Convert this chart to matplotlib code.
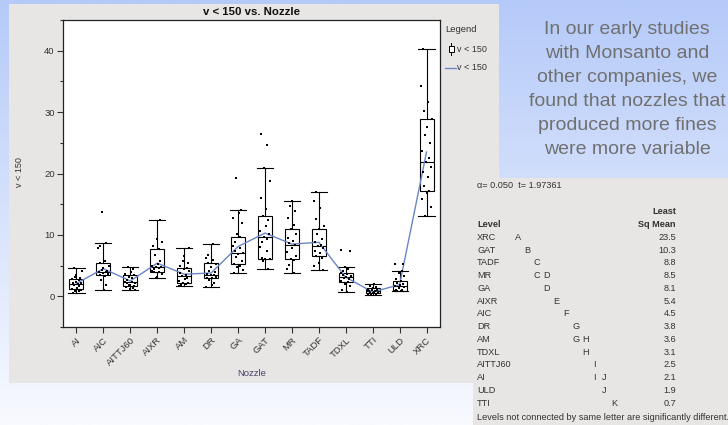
import numpy as np
import matplotlib.pyplot as plt
from matplotlib.patches import Rectangle
from matplotlib.lines import Line2D
from matplotlib.ticker import MultipleLocator

plt.rcParams['font.family'] = ['Liberation Sans', 'DejaVu Sans']

W, H = 728, 425

nozzles = ['AI', 'AIC', 'AITTJ60', 'AIXR', 'AM', 'DR', 'GA', 'GAT', 'MR',
           'TADF', 'TDXL', 'TTI', 'ULD', 'XRC']

# box summaries, one entry per nozzle
whisker_lo = [0.6, 1.1, 1.1, 2.9, 1.7, 1.5, 3.8, 4.4, 3.8, 4.3, 0.65, 0.2, 0.8, 13.0]
q1 = [1.2, 3.4, 1.7, 4.0, 2.1, 2.9, 5.2, 6.1, 6.1, 6.6, 2.3, 0.5, 0.9, 17.1]
median = [2.05, 4.0, 2.3, 4.7, 3.3, 3.5, 7.1, 9.6, 8.3, 8.2, 3.1, 0.85, 1.7, 21.9]
q3 = [2.8, 5.5, 3.5, 7.7, 4.6, 5.5, 9.6, 13.1, 10.9, 10.9, 3.85, 1.3, 2.45, 28.9]
whisker_hi = [4.6, 8.6, 4.7, 12.4, 7.8, 8.5, 14.0, 20.9, 15.5, 17.0, 4.7, 2.05, 4.2, 40.3]

# individual measurements per nozzle
pts_ai = [0.6, 0.8, 0.9, 1.1, 1.2, 1.3, 1.6, 1.8, 2.0, 2.1, 2.2, 2.4, 2.6, 2.8, 2.9, 3.1, 3.5, 4.1, 4.6]
pts_aic = [1.1, 1.9, 2.6, 3.3, 3.4, 3.6, 3.8, 3.9, 4.0, 4.1, 4.3, 4.6, 5.0, 5.5, 5.8, 7.8, 8.2, 8.6, 13.7]
pts_aittj60 = [1.1, 1.2, 1.3, 1.5, 1.7, 1.8, 1.9, 2.1, 2.2, 2.3, 2.4, 2.6, 2.9, 3.2, 3.5, 3.7, 4.0, 4.4, 4.7]
pts_aixr = [2.9, 3.2, 3.6, 3.9, 4.0, 4.2, 4.4, 4.6, 4.7, 4.8, 5.0, 5.3, 5.7, 6.8, 7.7, 8.2, 8.9, 9.4, 12.4]
pts_am = [1.7, 1.8, 2.0, 2.1, 2.2, 2.5, 2.8, 3.0, 3.3, 3.5, 3.8, 4.1, 4.4, 4.6, 4.9, 5.5, 5.8, 6.6, 7.8]
pts_dr = [1.5, 1.8, 2.2, 2.6, 2.9, 3.0, 3.2, 3.4, 3.5, 3.6, 3.9, 4.2, 4.8, 5.3, 5.5, 5.9, 6.2, 6.8, 8.5]
pts_ga = [3.8, 4.3, 4.7, 5.0, 5.2, 5.8, 6.4, 6.9, 7.1, 7.3, 7.8, 8.2, 8.9, 9.6, 10.2, 11.9, 12.8, 13.5, 14.0, 19.3]
pts_gat = [4.4, 5.8, 6.0, 6.1, 6.2, 7.3, 8.0, 8.8, 9.4, 9.6, 10.1, 10.6, 11.4, 12.4, 13.1, 14.2, 16.0, 18.8, 20.9, 24.7, 26.5]
pts_mr = [3.8, 4.4, 5.1, 5.9, 6.1, 6.5, 7.2, 7.8, 8.3, 8.6, 9.0, 9.5, 10.2, 10.9, 11.6, 12.8, 13.9, 14.7, 15.5]
pts_tadf = [4.3, 4.9, 5.5, 6.2, 6.6, 7.0, 7.4, 7.8, 8.2, 8.4, 8.8, 9.4, 10.1, 10.9, 11.5, 12.6, 14.3, 15.6, 17.0]
pts_tdxl = [0.65, 1.1, 1.6, 2.0, 2.3, 2.5, 2.8, 3.0, 3.1, 3.3, 3.5, 3.7, 3.85, 4.1, 4.4, 4.7, 7.3, 7.5]
pts_tti = [0.2, 0.3, 0.4, 0.5, 0.55, 0.6, 0.7, 0.8, 0.85, 0.9, 1.0, 1.1, 1.2, 1.3, 1.5, 1.7, 2.05]
pts_uld = [0.8, 0.85, 0.9, 1.0, 1.1, 1.3, 1.5, 1.7, 1.8, 2.0, 2.2, 2.45, 2.8, 3.3, 3.8, 4.2, 5.3, 5.3]
pts_xrc = [13.0, 14.6, 15.8, 16.9, 17.1, 18.0, 19.4, 20.2, 21.0, 21.9, 22.6, 23.6, 24.9, 26.3, 27.6, 28.9, 30.2, 31.7, 34.2, 40.3]

# connecting letters report
lsm_levels = ['XRC', 'GAT', 'TADF', 'MR', 'GA', 'AIXR', 'AIC', 'DR', 'AM',
              'TDXL', 'AITTJ60', 'AI', 'ULD', 'TTI']
lsm_letters = ['A', 'B', 'C', 'CD', 'D', 'E', 'F', 'G', 'GH', 'H', 'I', 'IJ', 'J', 'K']
lsm_means = [23.5, 10.3, 8.8, 8.5, 8.1, 5.4, 4.5, 3.8, 3.6, 3.1, 2.5, 2.1, 1.9, 0.7]

slide_lines = ['In our early studies', 'with Monsanto and',
               'other companies, we', 'found that nozzles that',
               'produced more fines', 'were more variable']


def fx(x):
    return x / W


def fy(y):
    return 1 - y / H


fig = plt.figure(figsize=(W / 100, H / 100), dpi=100)

# slide background: vertical blue-to-white gradient
bg = fig.add_axes([0, 0, 1, 1], zorder=-10)
top = np.array([181, 202, 249]) / 255
bot = np.array([248, 250, 255]) / 255
t = np.linspace(0, 1, 256)[:, None]
grad = (top * (1 - t) + bot * t)[:, None, :]
bg.imshow(grad, aspect='auto', extent=[0, 1, 0, 1])
bg.axis('off')

panel = '#e8e6e4'
fig.patches.append(Rectangle((fx(9), fy(383)), fx(499 - 9), (383 - 4) / H,
                             transform=fig.transFigure, facecolor=panel,
                             edgecolor='none', zorder=-5))
fig.patches.append(Rectangle((fx(473), 0), 1 - fx(473), (425 - 178) / H,
                             transform=fig.transFigure, facecolor=panel,
                             edgecolor='none', zorder=-5))

ax = fig.add_axes([fx(63), fy(327), fx(440 - 63), (327 - 20) / H])
ax.set_facecolor('white')

pos = np.arange(len(nozzles))
stats = []
for i, name in enumerate(nozzles):
    stats.append(dict(label=name, whislo=whisker_lo[i], q1=q1[i], med=median[i],
                      q3=q3[i], whishi=whisker_hi[i], fliers=[]))
line_kw = dict(color='black', linewidth=0.8)
ax.bxp(stats, positions=pos, widths=0.52, capwidths=0.6, showfliers=False,
       patch_artist=True,
       boxprops=dict(facecolor='white', edgecolor='black', linewidth=0.8),
       medianprops=line_kw, whiskerprops=line_kw, capprops=line_kw)

# fixed jitter pattern for the raw points
jit = [-0.12, 0.08, -0.04, 0.15, -0.18, 0.02, 0.11, -0.09, 0.05, -0.14, 0.17,
       -0.02, 0.09, -0.16, 0.13, -0.06, 0.0, 0.19, -0.11, 0.06, -0.19]
groups = [pts_ai, pts_aic, pts_aittj60, pts_aixr, pts_am, pts_dr, pts_ga,
          pts_gat, pts_mr, pts_tadf, pts_tdxl, pts_tti, pts_uld, pts_xrc]
for i, vals in enumerate(groups):
    xs = [i + jit[(k + 5 * i) % len(jit)] for k in range(len(vals))]
    ax.scatter(xs, vals, s=2.5, marker='s', color='black', linewidths=0, zorder=4)

mean_by_level = dict(zip(lsm_levels, lsm_means))
ax.plot(pos, [mean_by_level[n] for n in nozzles], color='#6a86c6',
        linewidth=1.0, zorder=3)

ax.set_xlim(-0.5, 13.5)
ax.set_ylim(-5, 45)
ax.yaxis.set_minor_locator(MultipleLocator(5))
ax.set_yticks([0, 10, 20, 30, 40])
ax.set_xticks(pos)
ax.set_xticklabels(nozzles, rotation=45, ha='right', va='top',
                   rotation_mode='anchor')
ax.tick_params(axis='both', direction='out', length=4, width=0.8,
               colors='#333333', labelsize=6.8, pad=2)
ax.tick_params(axis='y', which='minor', direction='out', length=2.5, width=0.8,
               colors='#333333')
for sp in ax.spines.values():
    sp.set_linewidth(0.9)
    sp.set_color('#222222')

fig.text(fx(251.5), fy(12), 'v < 150 vs. Nozzle', ha='center', va='center',
         fontsize=8.2, fontweight='bold', color='#111111')
fig.text(fx(19), fy(172), 'v < 150', ha='center', va='center', rotation=90,
         fontsize=6.5, color='#333333')
fig.text(fx(251.5), fy(374), 'Nozzle', ha='center', va='center',
         fontsize=6.8, color='#4b3f6b')

# legend block
fig.text(fx(445), fy(30), 'Legend', ha='left', va='center', fontsize=6.8,
         color='#333333')
fig.patches.append(Rectangle((fx(448.5), fy(52)), fx(5), 6 / H,
                             transform=fig.transFigure, facecolor='white',
                             edgecolor='black', linewidth=0.7))
fig.lines.append(Line2D([fx(451), fx(451)], [fy(43), fy(46)],
                        transform=fig.transFigure, color='black', linewidth=0.7))
fig.lines.append(Line2D([fx(451), fx(451)], [fy(52), fy(55)],
                        transform=fig.transFigure, color='black', linewidth=0.7))
fig.text(fx(457), fy(49), 'v < 150', ha='left', va='center', fontsize=6.5,
         color='#333333')
fig.lines.append(Line2D([fx(445), fx(456)], [fy(68), fy(68)],
                        transform=fig.transFigure, color='#6a86c6', linewidth=1.0))
fig.text(fx(457), fy(68), 'v < 150', ha='left', va='center', fontsize=6.5,
         color='#333333')

# slide text
for k, line in enumerate(slide_lines):
    fig.text(fx(627), fy(29 + 24 * k), line, ha='center', va='center',
             fontsize=14.0, color='#707070')

# connecting letters report
txt = dict(fontsize=6.55, color='#333333', va='center')
fig.text(fx(477), fy(186), 'α= 0.050  t= 1.97361', ha='left', **txt)
fig.text(fx(676), fy(212), 'Least', ha='right', fontweight='bold', **txt)
fig.text(fx(676), fy(224.5), 'Sq Mean', ha='right', fontweight='bold', **txt)
fig.text(fx(477), fy(224.5), 'Level', ha='left', fontweight='bold', **txt)
letter_order = 'ABCDEFGHIJK'
for r, (lev, let, m) in enumerate(zip(lsm_levels, lsm_letters, lsm_means)):
    yy = 237.3 + 12.75 * r
    fig.text(fx(477), fy(yy), lev, ha='left', **txt)
    for c in let:
        fig.text(fx(518 + 9.6 * letter_order.index(c)), fy(yy), c,
                 ha='center', **txt)
    fig.text(fx(676), fy(yy), f'{m:.1f}', ha='right', **txt)
fig.text(fx(477), fy(417), 'Levels not connected by same letter are significantly different.',
         ha='left', **txt)

fig.savefig('out.png', dpi=100)
